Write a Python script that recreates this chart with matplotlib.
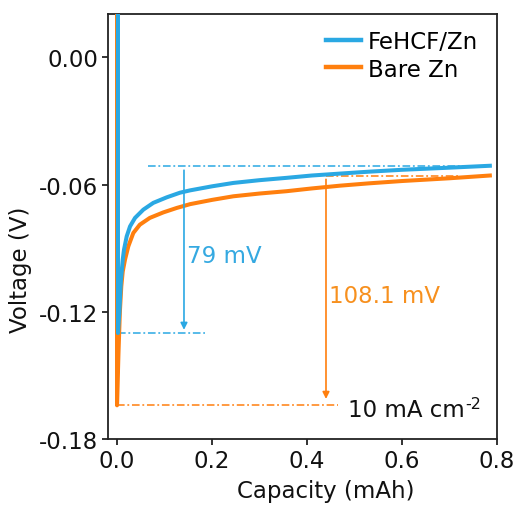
import matplotlib
matplotlib.use("Agg")
import matplotlib.pyplot as plt

plt.rcParams['font.family'] = ['DejaVu Sans']

# Galvanostatic nucleation curves at 10 mA cm-2
cap_fehcf = [0.002, 0.002, 0.005, 0.008, 0.012, 0.0147, 0.0204, 0.0274, 0.0379, 0.0554,
             0.0764, 0.1046, 0.1326, 0.154, 0.20, 0.245, 0.30, 0.357, 0.41, 0.469,
             0.53, 0.60, 0.70, 0.785]
volt_fehcf = [0.03, -0.130, -0.120, -0.106, -0.0954, -0.0907, -0.0844, -0.0797, -0.0757,
              -0.0718, -0.0686, -0.0660, -0.0638, -0.0627, -0.0608, -0.0592, -0.0579,
              -0.0568, -0.0557, -0.0548, -0.0539, -0.0530, -0.0520, -0.0511]

cap_bare = [0.0, 0.0, 0.003, 0.006, 0.009, 0.012, 0.0168, 0.0238, 0.0343, 0.048, 0.069,
            0.0975, 0.1257, 0.154, 0.20, 0.245, 0.30, 0.357, 0.41, 0.469, 0.53, 0.60,
            0.70, 0.785]
volt_bare = [0.03, -0.1641, -0.140, -0.120, -0.108, -0.101, -0.0954, -0.0891, -0.0828,
             -0.0789, -0.0757, -0.0731, -0.0710, -0.0692, -0.0672, -0.0655, -0.0642,
             -0.0631, -0.0618, -0.0605, -0.0594, -0.0583, -0.0570, -0.0557]

# Overpotential markers: (bottom, plateau) for each electrode
fehcf_min, fehcf_plateau = -0.130, -0.051
bare_min, bare_plateau = -0.1641, -0.056

xticks = [0.0, 0.2, 0.4, 0.6, 0.8]
xticklabels = ["0.0", "0.2", "0.4", "0.6", "0.8"]
yticks = [0.00, -0.06, -0.12, -0.18]
yticklabels = ["0.00", "-0.06", "-0.12", "-0.18"]

blue = '#2AA8E3'
orange = '#FF7F0E'
blue_txt = '#35A9E1'
orange_txt = '#F7901E'
ink = '#111111'
fs = 16.5

fig = plt.figure(figsize=(5.15, 5.06), dpi=100)
ax = fig.add_axes([0.2097, 0.1304, 0.7553, 0.84])

ax.plot(cap_bare, volt_bare, color=orange, lw=2.9, label='Bare Zn', zorder=3,
        solid_joinstyle='round')
ax.plot(cap_fehcf, volt_fehcf, color=blue, lw=2.9, label='FeHCF/Zn', zorder=4,
        solid_joinstyle='round')

dash = (0, (5, 1.8, 1.2, 1.8))
ax.plot([0.065, 0.785], [fehcf_plateau, fehcf_plateau], color=blue, lw=1.1, ls=dash, zorder=2)
ax.plot([0.002, 0.185], [fehcf_min, fehcf_min], color=blue, lw=1.1, ls=dash, zorder=2)
ax.plot([0.44, 0.72], [bare_plateau, bare_plateau], color=orange, lw=1.1, ls=dash, zorder=2)
ax.plot([0.0, 0.465], [bare_min, bare_min], color=orange, lw=1.1, ls=dash, zorder=2)

ax.annotate('', xy=(0.141, fehcf_min + 0.0015), xytext=(0.141, fehcf_plateau - 0.0022),
            arrowprops=dict(arrowstyle='-|>', color=blue, lw=1.2, mutation_scale=10,
                            shrinkA=0, shrinkB=0))
ax.annotate('', xy=(0.44, bare_min + 0.003), xytext=(0.44, bare_plateau - 0.0015),
            arrowprops=dict(arrowstyle='-|>', color=orange, lw=1.2, mutation_scale=10,
                            shrinkA=0, shrinkB=0))

ax.text(0.148, -0.0935, f"{(fehcf_plateau - fehcf_min) * 1000:.0f} mV", color=blue_txt,
        fontsize=fs, ha='left', va='center')
ax.text(0.446, -0.1125, f"{(bare_plateau - bare_min) * 1000:.1f} mV", color=orange_txt,
        fontsize=fs, ha='left', va='center')

t = ax.text(0.487, -0.1662, "10 mA cm", color=ink, fontsize=fs, ha='left', va='center')
ax.annotate("-2", xy=(1.0, 0.78), xycoords=t, color=ink, fontsize=11.5,
            ha='left', va='center')

ax.set_xlim(-0.019, 0.8)
ax.set_ylim(-0.18, 0.0205)
ax.set_xticks(xticks)
ax.set_xticklabels(xticklabels)
ax.set_yticks(yticks)
ax.set_yticklabels(yticklabels)
ax.tick_params(direction='out', length=4, width=1.2, labelsize=fs, colors=ink, pad=3)
for s in ax.spines.values():
    s.set_linewidth(1.3)
    s.set_color('#222222')

ax.set_xlabel("Capacity (mAh)", fontsize=fs, color=ink)
ax.set_ylabel("Voltage (V)", fontsize=fs, color=ink)
ax.xaxis.set_label_coords(0.56, -0.094)
ax.yaxis.set_label_coords(-0.195, 0.40)

handles, labels = ax.get_legend_handles_labels()
leg = ax.legend(handles[::-1], labels[::-1], loc='upper right', frameon=False, fontsize=fs,
                handlelength=1.55, handletextpad=0.3, labelspacing=0.2,
                bbox_to_anchor=(1.005, 1.011))
for h in leg.get_lines():
    h.set_linewidth(3.2)

fig.savefig("out.png", dpi=100)
